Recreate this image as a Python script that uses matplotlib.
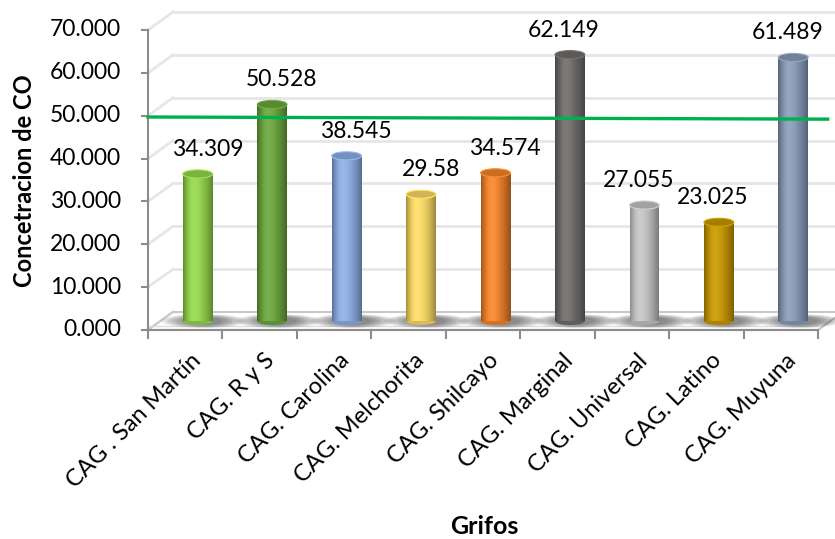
import numpy as np
import matplotlib
matplotlib.use('Agg')
import matplotlib.pyplot as plt
from matplotlib.patches import Rectangle, Ellipse, Polygon
from matplotlib.colors import to_rgb

# data
grifos = ['CAG . San Martín', 'CAG. R y S', 'CAG. Carolina', 'CAG. Melchorita',
          'CAG. Shilcayo', 'CAG. Marginal', 'CAG. Universal', 'CAG. Latino',
          'CAG. Muyuna']
co = [34.309, 50.528, 38.545, 29.58, 34.574, 62.149, 27.055, 23.025, 61.489]
labels = ['34.309', '50.528', '38.545', '29.58', '34.574', '62.149', '27.055',
          '23.025', '61.489']
limite = [49.7, 49.2]   # reference line, left and right end
colores = ['#96d94e', '#6ca83e', '#8fb0e6', '#ffdd66', '#f8862c', '#716d6d',
           '#c6c6c6', '#c99a00', '#8a9dba']
yticks = [0, 10, 20, 30, 40, 50, 60, 70]

plt.rcParams['font.family'] = ['Lato', 'DejaVu Sans']

fig = plt.figure(figsize=(8.35, 5.39), dpi=100)
ax = fig.add_axes([148/835, 209/539, 670/835, 300/539])
ax.set_xlim(-0.5, 8.5)
ax.set_ylim(0, 70)
ax.axis('off')

# depth of the 3d box in data units
dx, dy = 0.336, 4.2
grid_c = '#e6e6e6'
edge_c = '#c8c8c8'

# back wall and side wall gridlines
for v in yticks:
    ax.plot([-0.5 + dx, 8.5 + dx], [v + dy, v + dy], color=grid_c, lw=2,
            clip_on=False, zorder=1)
    ax.plot([-0.5, -0.5 + dx], [v, v + dy], color=grid_c, lw=2,
            clip_on=False, zorder=1)

# floor
floor = Polygon([(-0.5, 0), (8.5, 0), (8.5 + dx, dy), (-0.5 + dx, dy)],
                closed=True, facecolor='white', edgecolor=edge_c, lw=1.5,
                clip_on=False, zorder=2)
ax.add_patch(floor)
ax.plot([-0.5, 8.5], [0.9, 0.9], color='#dcdcdc', lw=1, clip_on=False, zorder=2)

# axes lines and ticks
ax.plot([-0.5, -0.5], [0, 70], color='#8c8c8c', lw=1.5, clip_on=False, zorder=3)
ax.plot([-0.5, 8.5], [0, 0], color='#8c8c8c', lw=1.5, clip_on=False, zorder=3)
for v in yticks:
    ax.plot([-0.58, -0.5], [v, v], color='#8c8c8c', lw=1.5, clip_on=False)
    ax.text(-0.86, v, f'{v:.3f}', ha='right', va='center', fontsize=16.5)
for k in range(10):
    ax.plot([k - 0.5, k - 0.5], [0, -1.9], color='#8c8c8c', lw=1.5,
            clip_on=False)

# cylinders
w = 0.40
eh = 1.9
base = dy / 2
n = 30
t = (np.arange(n) + 0.5) / n
shade = np.where(t < 0.35, 1 - 0.38 * ((0.35 - t) / 0.35) ** 2,
                 1 - 0.40 * ((t - 0.35) / 0.65) ** 2)
for i, (val, col) in enumerate(zip(co, colores)):
    c = i + dx / 2
    rgb = np.array(to_rgb(col))
    # soft shadow on the floor
    for k in range(8):
        f = 1 - k / 8
        ax.add_patch(Ellipse((c + 0.08, base), w + 0.75 * f, eh * (0.9 + 0.8 * f),
                             facecolor='black', alpha=0.07, lw=0,
                             zorder=4, clip_on=False))
    ax.add_patch(Ellipse((c, base), w, eh, facecolor=rgb * 0.85, lw=0,
                         zorder=5, clip_on=False))
    for j in range(n):
        s = shade[j]
        cc = np.clip(rgb * s + (1 - rgb) * max(0, s - 0.9) * 0.8, 0, 1)
        ax.add_patch(Rectangle((c - w / 2 + j * w / n, base), w / n * 1.2, val,
                               facecolor=cc, lw=0, zorder=5, clip_on=False))
    ax.add_patch(Ellipse((c, base + val), w, eh, facecolor=rgb * 0.82,
                         edgecolor=np.clip(rgb * 1.05, 0, 1), lw=0.8,
                         zorder=6, clip_on=False))

# value labels
label_dx = [0.13, 0.13, 0.13, 0.13, 0.13, -0.08, -0.08, -0.08, -0.08]
for i, (val, lab) in enumerate(zip(co, labels)):
    ax.text(i + dx / 2 + label_dx[i], val + base + 4.2, lab, ha='center',
            va='baseline', fontsize=16.5, zorder=8)

# reference line
ax.plot([-0.5, 8.63], limite, color='#00b050', lw=2.4, clip_on=False, zorder=7)

# category labels
for i, g in enumerate(grifos):
    ax.text(i + 0.06, -4.6, g, rotation=45, ha='right', va='top',
            rotation_mode='anchor', fontsize=17)

fig.text(25/835, 1 - 181/539, 'Concetracion de CO', rotation=90, ha='center',
         va='center', fontsize=17, fontweight='bold')
fig.text(484/835, 1 - 527/539, 'Grifos', ha='center', va='center',
         fontsize=18, fontweight='bold')

fig.savefig('out.png', dpi=100)
